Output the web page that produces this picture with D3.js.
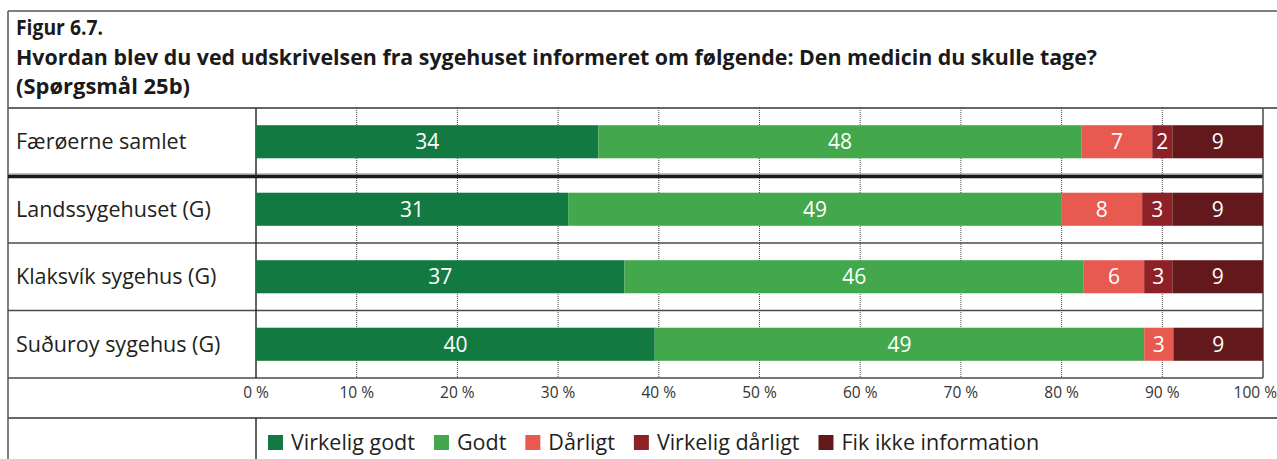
<!DOCTYPE html>
<html>
<head>
<meta charset="utf-8">
<script src="https://cdn.jsdelivr.net/npm/d3@7"></script>
<style>
  html, body { margin: 0; padding: 0; background: #fff; }
  svg { display: block; }
  text { font-family: "Open Sans", "Noto Sans", sans-serif; }
</style>
</head>
<body>
<svg id="chart" width="1277" height="459"></svg>
<script>
// ---------- DATA ----------
const titleLines = [
  "Figur 6.7.",
  "Hvordan blev du ved udskrivelsen fra sygehuset informeret om følgende: Den medicin du skulle tage?",
  "(Spørgsmål 25b)"
];
const categories = ["Færøerne samlet", "Landssygehuset (G)", "Klaksvík sygehus (G)", "Suðuroy sygehus (G)"];
const seriesNames = ["Virkelig godt", "Godt", "Dårligt", "Virkelig dårligt", "Fik ikke information"];
const virkeligGodt     = [34.0, 31.0, 36.6, 39.6];
const godt             = [48.0, 49.0, 45.6, 48.6];
const daarligt         = [7.0, 8.0, 6.0, 2.9];
const virkeligDaarligt = [2.0, 3.0, 2.8, 0.0];
const fikIkkeInfo      = [9.0, 9.0, 9.0, 8.9];
const tickValues = [0, 10, 20, 30, 40, 50, 60, 70, 80, 90, 100];
const tickLabels = ["0 %", "10 %", "20 %", "30 %", "40 %", "50 %", "60 %", "70 %", "80 %", "90 %", "100 %"];
const seriesColors = ["#127a40", "#43a84c", "#e85a50", "#8e2127", "#63181c"];

// ---------- BUILD TABLE ----------
const seriesArrays = [virkeligGodt, godt, daarligt, virkeligDaarligt, fikIkkeInfo];
const table = categories.map((c, i) => {
  const row = { category: c };
  seriesNames.forEach((s, j) => row[s] = seriesArrays[j][i]);
  return row;
});
const stacked = d3.stack().keys(seriesNames)(table);

// ---------- LAYOUT ----------
const W = 1277, H = 459;
const frameL = 8, frameT = 11;
const titleBottom = 108;
const labelColRight = 256;
const plotRight = 1263;
const plotBottom = 378;
const legendTop = 418;

const svg = d3.select("#chart");

const x = d3.scaleLinear().domain([0, 100]).range([labelColRight, plotRight]);
const y = d3.scaleBand().domain(categories).range([titleBottom, plotBottom])
  .paddingInner(0.51).paddingOuter(0.255);
const step = y.step();
const rowTop = c => y(c) - step * y.paddingInner() / 2;
const color = d3.scaleOrdinal().domain(seriesNames).range(seriesColors);

// ---------- FRAME ----------
const lineCol = "#4a4a4a";
svg.append("line").attr("x1", frameL).attr("x2", W).attr("y1", frameT).attr("y2", frameT)
  .attr("stroke", "#555").attr("stroke-width", 1.5);
svg.append("line").attr("x1", frameL).attr("x2", frameL).attr("y1", frameT).attr("y2", H)
  .attr("stroke", "#555").attr("stroke-width", 1.5);
svg.append("line").attr("x1", frameL).attr("x2", W).attr("y1", titleBottom).attr("y2", titleBottom)
  .attr("stroke", "#666").attr("stroke-width", 2);

// gridlines (dotted)
svg.append("g").selectAll("line")
  .data(tickValues.filter(v => v > 0 && v < 100))
  .join("line")
  .attr("x1", d => x(d)).attr("x2", d => x(d))
  .attr("y1", titleBottom).attr("y2", plotBottom)
  .attr("stroke", "#444").attr("stroke-width", 1)
  .attr("stroke-dasharray", "1,1");

// row separators
categories.slice(1).forEach((c, i) => {
  const yy = rowTop(c);
  if (i === 0) {
    svg.append("line").attr("x1", frameL).attr("x2", plotRight).attr("y1", yy - 1.5).attr("y2", yy - 1.5)
      .attr("stroke", "#888").attr("stroke-width", 1.2);
    svg.append("line").attr("x1", frameL).attr("x2", plotRight).attr("y1", yy + 1).attr("y2", yy + 1)
      .attr("stroke", "#1a1a1a").attr("stroke-width", 3.5);
  } else {
    svg.append("line").attr("x1", frameL).attr("x2", plotRight).attr("y1", yy).attr("y2", yy)
      .attr("stroke", lineCol).attr("stroke-width", 1.4);
  }
});
svg.append("line").attr("x1", frameL).attr("x2", plotRight).attr("y1", plotBottom).attr("y2", plotBottom)
  .attr("stroke", lineCol).attr("stroke-width", 1.4);
svg.append("line").attr("x1", frameL).attr("x2", W).attr("y1", legendTop).attr("y2", legendTop)
  .attr("stroke", "#666").attr("stroke-width", 2);
svg.append("line").attr("x1", labelColRight).attr("x2", labelColRight).attr("y1", titleBottom).attr("y2", plotBottom)
  .attr("stroke", "#222").attr("stroke-width", 1.4);
svg.append("line").attr("x1", labelColRight).attr("x2", labelColRight).attr("y1", legendTop).attr("y2", H)
  .attr("stroke", "#222").attr("stroke-width", 1.4);
svg.append("line").attr("x1", plotRight).attr("x2", plotRight).attr("y1", titleBottom).attr("y2", plotBottom)
  .attr("stroke", "#555").attr("stroke-width", 1.6);

// ---------- TITLE ----------
const titleBaselines = [35, 65, 94];
const titleWidths = [87, 1081, 174];
svg.append("g").selectAll("text").data(titleLines).join("text")
  .attr("x", 16).attr("y", (d, i) => titleBaselines[i])
  .attr("font-size", 20.5).attr("font-weight", 700).attr("fill", "#1a1a1a")
  .attr("textLength", (d, i) => titleWidths[i]).attr("lengthAdjust", "spacingAndGlyphs")
  .text(d => d);

// ---------- CATEGORY LABELS ----------
svg.append("g").selectAll("text").data(categories).join("text")
  .attr("x", 16).attr("y", d => y(d) + y.bandwidth() / 2)
  .attr("dy", "0.36em")
  .attr("font-size", 21.5).attr("fill", "#231f20")
  .text(d => d);

// ---------- BARS ----------
const layers = svg.append("g").selectAll("g").data(stacked).join("g")
  .attr("fill", d => color(d.key));
layers.selectAll("rect").data(d => d.filter(p => p[1] - p[0] > 0)).join("rect")
  .attr("x", d => x(d[0]))
  .attr("width", d => x(d[1]) - x(d[0]))
  .attr("y", d => y(d.data.category))
  .attr("height", y.bandwidth());

// value labels
const labelsG = svg.append("g");
stacked.forEach(layer => {
  layer.forEach(p => {
    const v = p[1] - p[0];
    if (v <= 0) return;
    labelsG.append("text")
      .attr("x", (x(p[0]) + x(p[1])) / 2)
      .attr("y", y(p.data.category) + y.bandwidth() / 2)
      .attr("dy", "0.36em")
      .attr("text-anchor", "middle")
      .attr("font-size", 21).attr("fill", "#fff")
      .text(d3.format(".0f")(v));
  });
});

// ---------- AXIS LABELS ----------
svg.append("g").selectAll("text").data(tickValues).join("text")
  .attr("y", 398)
  .attr("text-anchor", "middle")
  .attr("font-size", 15.5).attr("fill", "#333")
  .text((d, i) => tickLabels[i])
  .attr("x", function(d) {
    const w = this.getComputedTextLength();
    return Math.min(x(d), W - w / 2);
  });

// ---------- LEGEND ----------
const legend = svg.append("g");
let lx = 268;
seriesNames.forEach((s, i) => {
  legend.append("rect").attr("x", lx).attr("y", 435).attr("width", 15).attr("height", 15)
    .attr("fill", color(s));
  const t = legend.append("text").attr("x", lx + 23).attr("y", 450)
    .attr("font-size", 21.5).attr("fill", "#231f20").text(s);
  lx += 23 + t.node().getComputedTextLength() + 19;
});
</script>
</body>
</html>
